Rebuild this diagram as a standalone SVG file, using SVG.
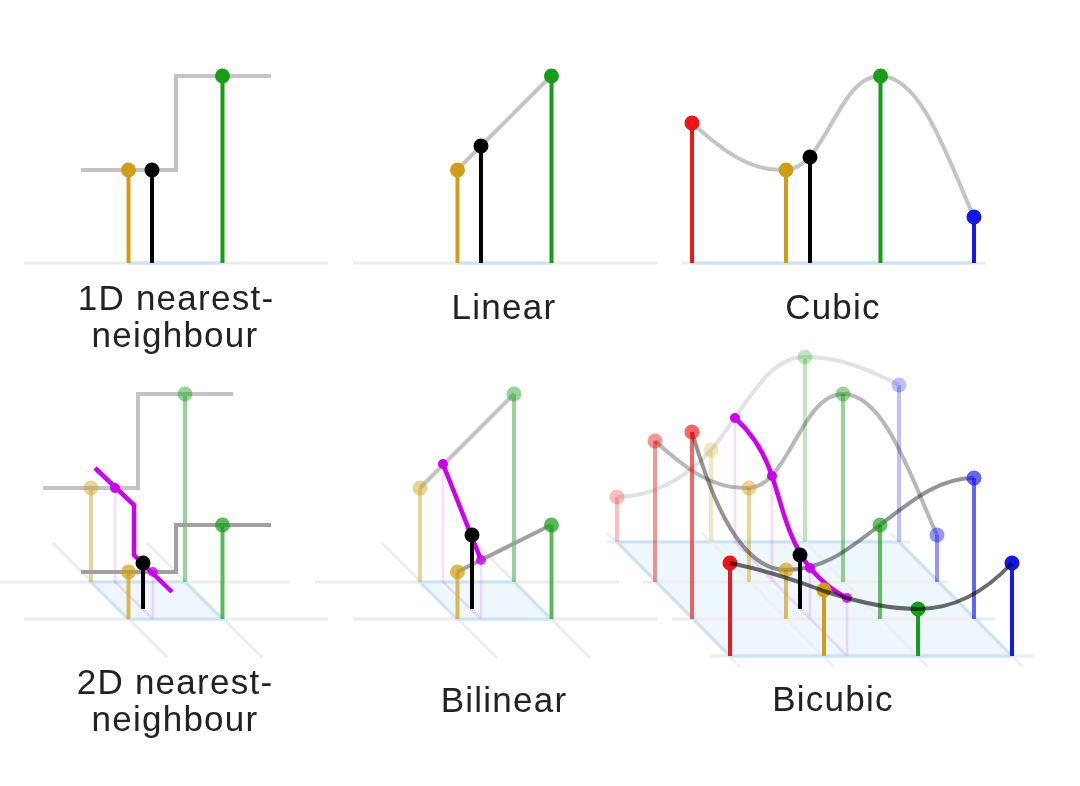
<svg xmlns="http://www.w3.org/2000/svg" width="1080" height="786" viewBox="0 0 1080 786">
<defs>
<filter id="soft" x="0" y="0" width="1080" height="786" filterUnits="userSpaceOnUse"><feGaussianBlur stdDeviation="0.7"/></filter>
<filter id="softtext" x="0" y="0" width="1080" height="786" filterUnits="userSpaceOnUse"><feGaussianBlur stdDeviation="0.45"/></filter>
</defs>
<style>
.g{stroke:#ededed;stroke-width:3;fill:none}
.d{stroke:#ededed;stroke-width:3;fill:none}
.b{stroke:#cbe4f3;stroke-width:3;fill:none}
.q{fill:#eef7fd;stroke:#cbe4f3;stroke-width:3}
.c{stroke:#c4c4c4;stroke-width:4;fill:none;stroke-linejoin:miter}
.m{stroke:#cc00ee;stroke-width:4.500;fill:none}
.pm{stroke:#cc00ee;stroke-width:2.500;opacity:.14;fill:none}
.sr{stroke:#f01212;fill:#f01212;stroke-width:4}
.sy{stroke:#d09e14;fill:#d09e14;stroke-width:4}
.sg{stroke:#169e16;fill:#169e16;stroke-width:4}
.sb{stroke:#1212ee;fill:#1212ee;stroke-width:4}
.sk{stroke:#000;fill:#000;stroke-width:4}
.sm{stroke:#cc00ee;fill:#cc00ee;stroke-width:3}
text{font-family:"Liberation Sans",Arial,sans-serif;font-size:35px;letter-spacing:1.250px;fill:#222;text-anchor:middle}
</style>
<rect width="1080" height="786" fill="#fff"/>
<g id="connectors" filter="url(#soft)">
<g id="grid">
<path class="g" d="M24 263H328M353 263H657M682 263H986"/>
<path class="b" d="M128 263H222M457 263H551M692 263H974"/>
<path class="g" d="M0 582H290M24 619H328M315 582H619M353 619H657M607 542H910"/>
<path class="d" d="M53 543L167 657M147 543L262 657M382 543L497 658M476 543L590 658"/>
<path class="q" d="M91 582H185L222 619H128Z"/>
<path class="q" d="M420 582H514L551 619H457Z"/>
<path class="q" d="M617 542H899L1012 656H730Z"/>
<path class="g" d="M643 582H948M672 619H995M710 656H1033"/>
<path class="d" d="M607 533L740 667M702 533L834 667M797 533L928 667M890 533L1023 667" opacity=".85"/>
<path class="b" d="M617 542L730 656M899 542L1012 656M730 656H1012"/>
</g>
<g id="curve-1d"><path class="c" d="M81 170H176V76H271"/></g>
<g id="curve-linear"><path class="c" d="M457 170L551 76"/></g>
<g id="curve-cubic"><path class="c" d="M692 123C722 150 750 172 786 170C826 168 838 76 880 76C922 76 948 160 974 217"/></g>
<g id="stems-1d">
<path class="sy" d="M128.500 263V170"/><path class="sk" d="M152 263V170"/><path class="sg" d="M222.500 263V76"/>
<path class="sy" d="M457.500 263V170"/><path class="sk" d="M481 263V146"/><path class="sg" d="M551.500 263V76"/>
<path class="sr" d="M692 263V123"/><path class="sy" d="M786 263V170"/><path class="sk" d="M810 263V157"/><path class="sg" d="M880.500 263V76"/><path class="sb" d="M974 263V217"/>
</g>
<g id="nn2d">
<g opacity=".45"><path class="sy" d="M91 582V488"/><path class="sg" d="M185 582V394"/></g>
<path class="c" d="M43 488H138V394H233"/>
<path class="pm" d="M115 488V582L153 619M153 572V619"/>
<g opacity=".7"><path class="sy" d="M128.500 619V572"/><path class="sg" d="M222.500 619V525"/></g>
<path d="M81 572H176V525H271" stroke="#a0a0a0" stroke-width="4" fill="none"/>
<path class="m" d="M95 468L134 505V555L172 592"/>
<path class="sk" d="M143 609V563"/>
</g>
<g id="bilinear2d">
<g opacity=".45"><path class="sy" d="M420 582V488"/><path class="sg" d="M514 582V394"/></g>
<path class="c" d="M420 488L514 394"/>
<path class="pm" d="M443 464V582L481 619M481 560V619"/>
<g opacity=".7"><path class="sy" d="M457.500 619V572"/><path class="sg" d="M551.500 619V525"/></g>
<path class="m" d="M443 464L481 560"/>
<path d="M457 572L551 525" stroke="#a0a0a0" stroke-width="4" fill="none"/>
<path class="sk" d="M472 609V535"/>
</g>
<g id="bicubic2d">
<g opacity=".25"><path class="sr" d="M617 542V497"/><path class="sy" d="M711 542V450"/><path class="sg" d="M805 542V357"/><path class="sb" d="M899 542V385"/></g>
<path d="M617 497C650 497 685 480 711 450C745 410 765 357 805 357C840 357 870 370 899 385" stroke="#e2e2e2" stroke-width="4" fill="none"/>
<path class="pm" d="M735 418V542L847 656M772 476V582M810 568V619M847 598V656"/>
<g opacity=".45"><path class="sr" d="M655 582V441"/><path class="sy" d="M749 582V488"/><path class="sg" d="M843 582V394"/><path class="sb" d="M937 582V535"/></g>
<path d="M655 441C685 468 713 490 749 488C789 486 801 394 843 394C885 394 911 478 937 535" stroke="#000" stroke-opacity=".28" stroke-width="4" fill="none"/>
<g opacity=".65"><path class="sr" d="M692 619V432"/><path class="sy" d="M786 619V570"/><path class="sg" d="M880 619V525"/><path class="sb" d="M974 619V478"/></g>
<path d="M692 432C706 480 735 570 786 570C825 570 850 548 880 525C915 498 940 478 974 478" stroke="#000" stroke-opacity=".42" stroke-width="4" fill="none"/>
<path class="m" d="M735 418C752 433 764 452 772 476C782 505 788 540 810 568C822 582 833 591 847 598"/>
<path class="sk" d="M800 609V555"/>
<path class="sr" d="M730 656V563"/><path class="sy" d="M824 656V590"/><path class="sg" d="M918 656V609"/><path class="sb" d="M1012 656V563"/>
</g>
</g>
<g id="dots" filter="url(#soft)">
<g id="n1d"><circle class="sy" cx="128.500" cy="170" r="5.500"/><circle class="sk" cx="152" cy="170" r="5.500"/><circle class="sg" cx="222.500" cy="76" r="5.500"/></g>
<g id="nlinear"><circle class="sy" cx="457.500" cy="170" r="5.500"/><circle class="sk" cx="481" cy="146" r="5.500"/><circle class="sg" cx="551.500" cy="76" r="5.500"/></g>
<g id="ncubic"><circle class="sr" cx="692" cy="123" r="5.500"/><circle class="sy" cx="786" cy="170" r="5.500"/><circle class="sk" cx="810" cy="157" r="5.500"/><circle class="sg" cx="880.500" cy="76" r="5.500"/><circle class="sb" cx="974" cy="217" r="5.500"/></g>
<g id="nnn2d">
<g opacity=".45"><circle class="sy" cx="91" cy="488" r="5.500"/><circle class="sg" cx="185" cy="394" r="5.500"/></g>
<g opacity=".7"><circle class="sy" cx="128.500" cy="572" r="5.500"/><circle class="sg" cx="222.500" cy="525" r="5.500"/></g>
<circle class="sm" cx="115" cy="488" r="3.500"/><circle class="sm" cx="153" cy="572" r="3.500" opacity=".8"/><circle class="sk" cx="143" cy="563" r="5.500"/>
</g>
<g id="nbilinear">
<g opacity=".45"><circle class="sy" cx="420" cy="488" r="5.500"/><circle class="sg" cx="514" cy="394" r="5.500"/></g>
<g opacity=".7"><circle class="sy" cx="457.500" cy="572" r="5.500"/><circle class="sg" cx="551.500" cy="525" r="5.500"/></g>
<circle class="sm" cx="443" cy="464" r="3.500"/><circle class="sm" cx="481" cy="560" r="3.500" opacity=".8"/><circle class="sk" cx="472" cy="535" r="5.500"/>
</g>
<g id="nbicubic">
<g opacity=".25"><circle class="sr" cx="617" cy="497" r="5.500"/><circle class="sy" cx="711" cy="450" r="5.500"/><circle class="sg" cx="805" cy="357" r="5.500"/><circle class="sb" cx="899" cy="385" r="5.500"/></g>
<g opacity=".45"><circle class="sr" cx="655" cy="441" r="5.500"/><circle class="sy" cx="749" cy="488" r="5.500"/><circle class="sg" cx="843" cy="394" r="5.500"/><circle class="sb" cx="937" cy="535" r="5.500"/></g>
<g opacity=".65"><circle class="sr" cx="692" cy="432" r="5.500"/><circle class="sy" cx="786" cy="570" r="5.500"/><circle class="sg" cx="880" cy="525" r="5.500"/><circle class="sb" cx="974" cy="478" r="5.500"/></g>
<circle class="sr" cx="730" cy="563" r="5.500"/><circle class="sy" cx="824" cy="590" r="5.500"/><circle class="sg" cx="918" cy="609" r="5.500"/><circle class="sb" cx="1012" cy="563" r="5.500"/>
<circle class="sm" cx="735" cy="418" r="3.500"/><circle class="sm" cx="772" cy="476" r="3.500"/><circle class="sm" cx="810" cy="568" r="3.500"/><circle class="sm" cx="847" cy="598" r="3.500" opacity=".85"/><circle class="sk" cx="800" cy="555" r="5.500"/>
</g>
<path id="curve-row4" d="M730 563C765 570 795 580 824 591C860 603 890 609 918 609C955 609 985 592 1012 563" stroke="#000" stroke-opacity=".58" stroke-width="4" fill="none"/>
</g>
<g id="labels" filter="url(#softtext)">
<text x="176" y="310">1D nearest-</text>
<text x="175" y="347">neighbour</text>
<text x="504" y="319">Linear</text>
<text x="833" y="319">Cubic</text>
<text x="175" y="694">2D nearest-</text>
<text x="175" y="731">neighbour</text>
<text x="504" y="712">Bilinear</text>
<text x="833" y="711">Bicubic</text>
</g>
</svg>
